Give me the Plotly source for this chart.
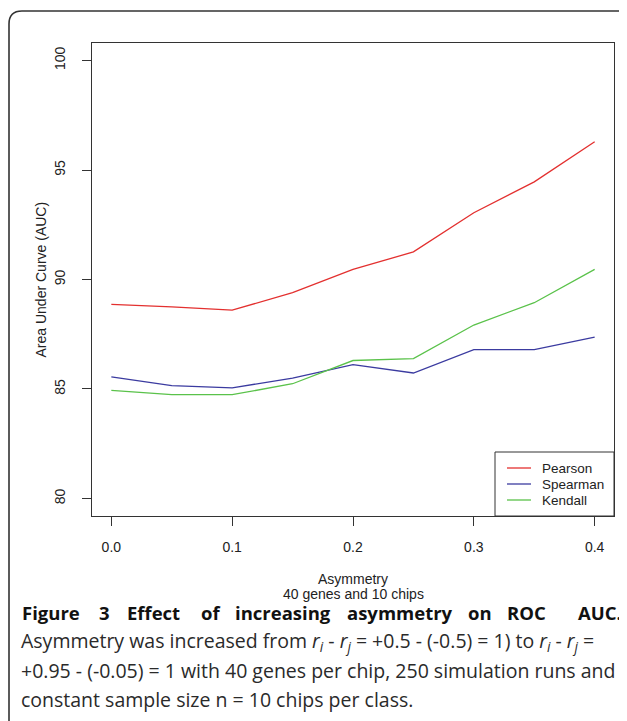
import plotly.graph_objects as go

# data
asymmetry = [0.0, 0.05, 0.10, 0.15, 0.20, 0.25, 0.30, 0.35, 0.40]
pearson = [88.86, 88.75, 88.60, 89.40, 90.46, 91.26, 93.05, 94.46, 96.29]
spearman = [85.55, 85.15, 85.05, 85.50, 86.11, 85.73, 86.80, 86.80, 87.37]
kendall = [84.94, 84.74, 84.74, 85.24, 86.30, 86.39, 87.92, 88.94, 90.46]

series_names = ["Pearson", "Spearman", "Kendall"]
series_values = [pearson, spearman, kendall]
series_colors = ["#e3302f", "#3b3ba0", "#5ac24a"]

y_ticks = [80, 85, 90, 95, 100]
x_ticks = [0.0, 0.1, 0.2, 0.3, 0.4]

# page has an 8px body margin, so the figure is a bit smaller than the window
OFF = 8
W, H = 627 - OFF, 721 - OFF
L, R, T, B = 92, 614, 43, 516   # plot box in window pixels


def px(x):
    return (x - L) / (R - L)


def py(y):
    return (B - y) / (B - T)


axis_font = dict(family="Liberation Sans, Arial", size=14, color="#222")
legend_font = dict(family="Liberation Sans, Arial", size=13.5, color="#222")

fig = go.Figure()
for name, vals, col in zip(series_names, series_values, series_colors):
    fig.add_trace(go.Scatter(x=asymmetry, y=vals, mode="lines", name=name,
                             line=dict(color=col, width=1.3), showlegend=False))

shapes = []
annotations = []

# legend box, drawn the R way
shapes.append(dict(type="rect", xref="paper", yref="paper",
                   x0=px(495), x1=px(614), y0=py(516), y1=py(452),
                   line=dict(color="#333", width=1), fillcolor="white"))
for i, (name, col) in enumerate(zip(series_names, series_colors)):
    yy = 468 + i * 16
    shapes.append(dict(type="line", xref="paper", yref="paper",
                       x0=px(507), x1=px(531), y0=py(yy), y1=py(yy),
                       line=dict(color=col, width=1.3)))
    annotations.append(dict(text=name, xref="paper", yref="paper",
                            x=px(540), y=py(yy), xanchor="left", yanchor="middle",
                            showarrow=False, font=legend_font))

# outer rounded frame
x9, y11 = px(9), py(11)
frame = (f"M {x9} {py(725)} L {x9} {py(24)} "
         f"Q {x9} {y11} {px(22)} {y11} L {px(630)} {y11}")
shapes.append(dict(type="path", xref="paper", yref="paper", path=frame,
                   line=dict(color="#333", width=1.6)))

# axis titles
annotations.append(dict(text="Asymmetry", xref="paper", yref="paper",
                        x=0.5, y=py(579), xanchor="center", yanchor="middle",
                        showarrow=False, font=axis_font))
annotations.append(dict(text="40 genes and 10 chips", xref="paper", yref="paper",
                        x=0.5, y=py(594), xanchor="center", yanchor="middle",
                        showarrow=False, font=axis_font))
annotations.append(dict(text="Area Under Curve (AUC)", xref="paper", yref="paper",
                        x=px(40), y=0.5, textangle=-90, xanchor="center", yanchor="middle",
                        showarrow=False, font=axis_font))

# caption: justified bold first line, word by word
bold_font = dict(family="Open Sans", size=18.5, color="#111")
bold_words = ["Figure", "3", "Effect", "of", "increasing", "asymmetry", "on", "ROC"]
bold_x = [20, 97, 125, 199, 233, 345, 466, 505]
for w, xx in zip(bold_words, bold_x):
    annotations.append(dict(text=f"<b>{w}</b>", xref="paper", yref="paper",
                            x=px(xx), y=py(612), xanchor="left", yanchor="middle",
                            showarrow=False, font=bold_font))
annotations.append(dict(text="<b>AUC.</b>", xref="paper", yref="paper",
                        x=px(624), y=py(612), xanchor="right", yanchor="middle",
                        showarrow=False, font=bold_font))

cap_font = dict(family="Open Sans", size=19.5, color="#2a2a2a")
ri = "<i>r<sub>i</sub></i>"
rj = "<i>r<sub>j</sub></i>"
cap_lines = [
    f"Asymmetry was increased from {ri} - {rj} = +0.5 - (-0.5) = 1) to {ri} - {rj} =",
    "+0.95 - (-0.05) = 1 with 40 genes per chip, 250 simulation runs and",
    "constant sample size n = 10 chips per class.",
]
for i, line in enumerate(cap_lines):
    annotations.append(dict(text=line, xref="paper", yref="paper",
                            x=px(19), y=py(641 + 29 * i), xanchor="left", yanchor="middle",
                            showarrow=False, font=cap_font))

fig.update_layout(
    width=W, height=H,
    margin=dict(l=L - OFF, r=627 - R, t=T - OFF, b=721 - B, pad=0),
    paper_bgcolor="white", plot_bgcolor="white",
    showlegend=False,
    xaxis=dict(range=[-0.016, 0.416], tickvals=x_ticks, tickformat=".1f",
               showgrid=False, zeroline=False, showline=True, mirror=True,
               linecolor="#333", linewidth=1, ticks="outside", ticklen=9,
               tickcolor="#333", tickfont=axis_font, ticklabelstandoff=9),
    yaxis=dict(range=[79.2, 100.8], tickvals=y_ticks,
               showgrid=False, zeroline=False, showline=True, mirror=True,
               linecolor="#333", linewidth=1, ticks="outside", ticklen=9,
               tickcolor="#333", tickfont=axis_font, tickangle=-90, ticklabelstandoff=11),
    shapes=shapes,
    annotations=annotations,
)

fig.write_html("out.html")
